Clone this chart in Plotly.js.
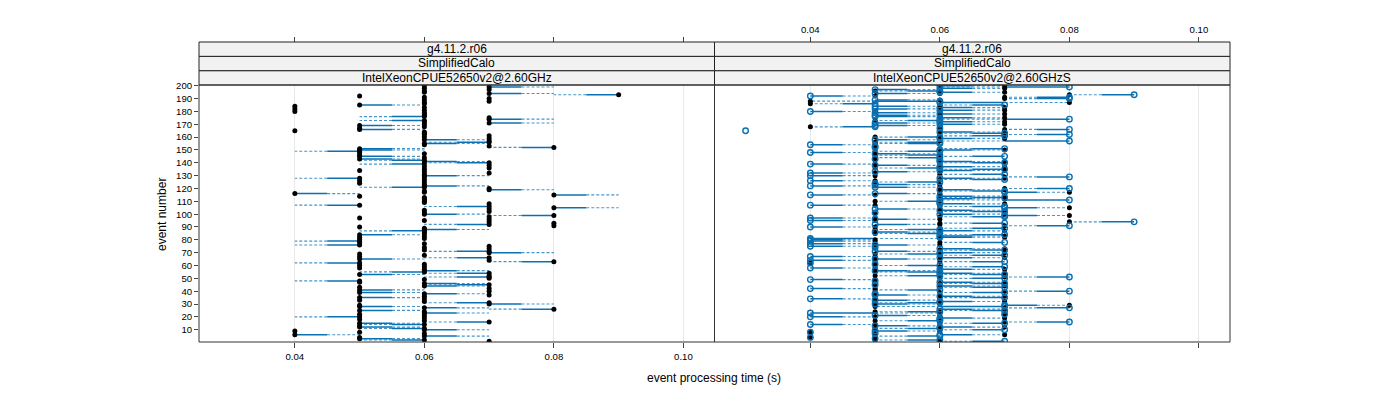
<!DOCTYPE html>
<html><head><meta charset="utf-8">
<script src="https://cdn.plot.ly/plotly-3.0.1.min.js"></script>
<style>html,body{margin:0;padding:0;background:#fff}#chart{width:1400px;height:400px}</style>
</head><body><div id="chart"></div>
<script>
// ---- data (event 1 .. 200) ----
const leftTime = [
0.07,0.06,0.05,0.05,0.06,0.04,0.06,0.05,0.04,0.06,
0.06,0.05,0.05,0.06,0.05,0.07,0.06,0.05,0.06,0.05,
0.06,0.05,0.06,0.06,0.05,0.08,0.06,0.05,0.05,0.07,
0.07,0.06,0.05,0.06,0.05,0.06,0.07,0.06,0.05,0.07,
0.05,0.07,0.05,0.06,0.07,0.06,0.05,0.05,0.06,0.07,
0.07,0.07,0.05,0.07,0.06,0.06,0.06,0.05,0.06,0.05,
0.06,0.05,0.08,0.07,0.05,0.07,0.05,0.06,0.05,0.07,
0.07,0.06,0.07,0.06,0.07,0.05,0.06,0.05,0.05,0.05,
0.06,0.05,0.06,0.05,0.06,0.06,0.06,0.06,0.06,0.05,
0.08,0.07,0.08,0.07,0.06,0.07,0.05,0.07,0.08,0.06,
0.06,0.07,0.06,0.07,0.08,0.07,0.05,0.07,0.06,0.06,
0.06,0.06,0.06,0.05,0.08,0.04,0.06,0.06,0.07,0.07,
0.06,0.06,0.06,0.05,0.06,0.05,0.06,0.05,0.06,0.06,
0.06,0.07,0.06,0.05,0.06,0.07,0.06,0.07,0.06,0.07,
0.06,0.06,0.05,0.06,0.05,0.05,0.06,0.05,0.05,0.05,
0.05,0.08,0.07,0.06,0.06,0.07,0.07,0.06,0.07,0.06,
0.07,0.06,0.06,0.06,0.04,0.05,0.05,0.06,0.05,0.06,
0.07,0.06,0.06,0.07,0.07,0.06,0.06,0.06,0.06,0.04,
0.06,0.04,0.06,0.04,0.05,0.06,0.06,0.07,0.06,0.07,
0.06,0.05,0.09,0.07,0.06,0.06,0.07,0.06,0.07,0.06];
const leftReference = [
0.07,0.05,0.06,0.05,0.07,0.05,0.06,0.05,0.04,0.07,
0.05,0.06,0.05,0.05,0.06,0.06,0.06,0.05,0.06,0.04,
0.06,0.05,0.07,0.06,0.06,0.07,0.07,0.06,0.05,0.08,
0.06,0.06,0.05,0.06,0.06,0.06,0.07,0.07,0.06,0.07,
0.06,0.07,0.05,0.07,0.06,0.07,0.05,0.04,0.06,0.07,
0.06,0.07,0.06,0.06,0.05,0.07,0.06,0.05,0.06,0.05,
0.06,0.04,0.07,0.07,0.06,0.06,0.05,0.06,0.05,0.08,
0.06,0.06,0.07,0.06,0.07,0.04,0.06,0.05,0.04,0.05,
0.06,0.05,0.06,0.06,0.06,0.06,0.05,0.07,0.06,0.05,
0.08,0.06,0.08,0.07,0.06,0.07,0.05,0.07,0.07,0.07,
0.06,0.07,0.06,0.07,0.09,0.06,0.04,0.07,0.06,0.06,
0.06,0.06,0.06,0.05,0.09,0.05,0.06,0.06,0.08,0.07,
0.05,0.07,0.06,0.05,0.06,0.05,0.06,0.04,0.06,0.07,
0.06,0.07,0.06,0.05,0.06,0.07,0.06,0.07,0.05,0.06,
0.07,0.05,0.06,0.06,0.06,0.05,0.06,0.05,0.04,0.06,
0.06,0.07,0.07,0.06,0.07,0.06,0.07,0.07,0.07,0.06,
0.07,0.06,0.06,0.06,0.04,0.06,0.05,0.06,0.06,0.06,
0.08,0.06,0.05,0.08,0.07,0.05,0.06,0.06,0.06,0.04,
0.06,0.04,0.06,0.04,0.06,0.06,0.06,0.07,0.06,0.07,
0.06,0.05,0.08,0.08,0.06,0.06,0.07,0.06,0.08,0.06];
const rightBlack = [
0.06,0.05,0.05,0.04,0.05,0.07,0.05,0.04,0.06,0.06,
0.05,0.07,0.06,0.05,0.06,0.07,0.05,0.06,0.07,0.05,
0.06,0.07,0.06,0.05,0.06,0.07,0.07,0.05,0.08,0.06,
0.05,0.07,0.06,0.05,0.06,0.07,0.06,0.05,0.06,0.07,
0.05,0.05,0.06,0.07,0.05,0.06,0.07,0.05,0.05,0.06,
0.07,0.05,0.06,0.07,0.05,0.06,0.07,0.05,0.06,0.05,
0.05,0.04,0.06,0.05,0.06,0.07,0.05,0.06,0.05,0.07,
0.06,0.06,0.07,0.05,0.05,0.06,0.05,0.06,0.05,0.05,
0.06,0.07,0.07,0.06,0.05,0.06,0.07,0.05,0.06,0.05,
0.07,0.06,0.06,0.08,0.05,0.06,0.05,0.06,0.08,0.07,
0.05,0.06,0.07,0.06,0.08,0.06,0.05,0.07,0.06,0.05,
0.06,0.07,0.06,0.07,0.05,0.06,0.08,0.06,0.07,0.07,
0.06,0.05,0.06,0.05,0.05,0.05,0.06,0.07,0.07,0.05,
0.06,0.05,0.06,0.07,0.06,0.05,0.07,0.06,0.05,0.06,
0.07,0.06,0.05,0.05,0.06,0.05,0.06,0.05,0.05,0.07,
0.06,0.05,0.05,0.05,0.05,0.05,0.06,0.06,0.07,0.05,
0.06,0.07,0.06,0.07,null,0.07,0.06,0.04,0.06,0.07,
0.06,0.07,0.05,0.06,0.07,0.06,0.06,0.07,0.06,0.05,
0.07,0.06,0.07,0.06,0.06,0.04,0.08,0.04,0.06,0.07,
0.07,0.05,0.08,0.06,0.07,0.05,0.06,0.07,0.06,0.07];
const rightBlue = [
0.07,0.06,0.05,0.04,0.06,0.06,0.05,0.04,0.05,0.07,
0.06,0.06,0.05,0.04,0.07,0.08,0.06,0.06,0.06,0.04,
0.05,0.07,0.04,0.06,0.07,0.06,0.08,0.07,0.07,0.05,
0.06,0.06,0.05,0.04,0.07,0.06,0.05,0.05,0.07,0.08,
0.06,0.04,0.07,0.06,0.05,0.07,0.06,0.05,0.04,0.07,
0.08,0.06,0.07,0.06,0.06,0.05,0.06,0.04,0.07,0.06,
0.05,0.04,0.07,0.04,0.05,0.06,0.04,0.07,0.06,0.06,
0.05,0.07,0.06,0.05,0.04,0.05,0.04,0.07,0.04,0.04,
0.04,0.06,0.06,0.07,0.06,0.05,0.06,0.06,0.07,0.04,
0.08,0.05,0.07,0.09,0.04,0.05,0.04,0.07,0.07,0.06,
0.05,0.07,0.06,0.05,0.07,0.07,0.04,0.06,0.06,0.06,
0.08,0.06,0.07,0.06,0.04,0.05,0.07,0.07,0.06,0.08,
0.05,0.04,0.05,0.05,0.06,0.04,0.07,0.06,0.08,0.04,
0.07,0.04,0.05,0.06,0.07,0.06,0.06,0.05,0.04,0.07,
0.06,0.06,0.05,0.06,0.07,0.06,0.05,0.04,0.06,0.06,
0.07,0.05,0.05,0.04,0.06,0.06,0.08,0.05,0.06,0.06,
0.07,0.08,0.07,0.06,0.03,0.08,0.06,0.05,0.05,0.06,
0.05,0.06,0.06,0.08,0.06,0.05,0.05,0.06,0.05,0.04,
0.06,0.05,0.06,0.05,0.07,0.05,0.06,0.06,0.05,0.08,
0.08,0.04,0.09,0.05,0.06,0.06,0.05,0.06,0.08,0.06];
const xTickVals = [0.04, 0.06, 0.08, 0.10];
const xTickText = ['0.04', '0.06', '0.08', '0.10'];
const yTickVals = [10,20,30,40,50,60,70,80,90,100,110,120,130,140,150,160,170,180,190,200];
const stripVersion = 'g4.11.2.r06';
const stripTest = 'SimplifiedCalo';
const panelMachines = ['IntelXeonCPUE52650v2@2.60GHz', 'IntelXeonCPUE52650v2@2.60GHzS'];
const xLabel = 'event processing time (s)';
const yLabel = 'event number';

// ---- build ----
const events = leftTime.map((_, i) => i + 1);
const SOLID = '#0a70b2', DASH = '#4596cc', FONT = 'Liberation Sans, Arial, sans-serif';

function segmentTraces(from, to, xa) {
  const sx = [], sy = [], dx = [], dy = [];
  for (let i = 0; i < events.length; i++) {
    const a = from[i], b = to[i];
    if (a == null || b == null || Math.abs(a - b) < 1e-9) continue;
    const m = (a + b) / 2, e = events[i];
    sx.push(a, m, null); sy.push(e, e, null);
    dx.push(m, b, null); dy.push(e, e, null);
  }
  return [
    {type: 'scatter', mode: 'lines', x: dx, y: dy, xaxis: xa, yaxis: 'y',
     line: {color: DASH, width: 1.1, dash: '3px,2px'}, hoverinfo: 'skip', showlegend: false},
    {type: 'scatter', mode: 'lines', x: sx, y: sy, xaxis: xa, yaxis: 'y',
     line: {color: SOLID, width: 1.5}, hoverinfo: 'skip', showlegend: false}
  ];
}

const traces = [];
traces.push(...segmentTraces(leftTime, leftReference, 'x'));
traces.push(...segmentTraces(rightBlue, rightBlack, 'x2'));
traces.push({type: 'scatter', mode: 'markers', x: leftTime, y: events, xaxis: 'x', yaxis: 'y',
  marker: {color: '#000', size: 5}, hoverinfo: 'x+y', showlegend: false});
traces.push({type: 'scatter', mode: 'markers', x: rightBlack, y: events, xaxis: 'x2', yaxis: 'y',
  marker: {color: '#000', size: 5}, hoverinfo: 'x+y', showlegend: false});
traces.push({type: 'scatter', mode: 'markers', x: rightBlue, y: events, xaxis: 'x2', yaxis: 'y',
  marker: {symbol: 'circle-open', color: '#0a70b2', size: 5.5, line: {width: 1.4, color: '#0a70b2'}},
  hoverinfo: 'x+y', showlegend: false});
// carriers for the top tick axes
traces.push({type: 'scatter', mode: 'markers', x: [], y: [], xaxis: 'x3', yaxis: 'y', showlegend: false});
traces.push({type: 'scatter', mode: 'markers', x: [], y: [], xaxis: 'x4', yaxis: 'y', showlegend: false});

const W = 1400, H = 400, mL = 199, mR = 170, mT = 42, mB = 58;
const plotH = H - mT - mB, plotW = W - mL - mR;
const panelTop = 257 / plotH;
const stripH = (1 - panelTop) / 3;
const xRange = [0.0252, 0.1048];
const tickFont = {family: FONT, size: 9.6, color: '#000'};

const baseX = {range: xRange, tickvals: xTickVals, ticktext: xTickText, ticks: 'outside', ticklen: 5,
  tickcolor: '#444', tickwidth: 1, showline: false, zeroline: false, tickfont: tickFont, fixedrange: true};

const layout = {
  width: W, height: H, margin: {l: mL, r: mR, t: mT, b: mB, pad: 0},
  paper_bgcolor: '#fff', plot_bgcolor: 'rgba(0,0,0,0)', showlegend: false,
  font: {family: FONT, color: '#000'},
  xaxis: Object.assign({}, baseX, {domain: [0, 0.5], anchor: 'y', side: 'bottom', showgrid: true,
    gridcolor: '#e9e9e9', gridwidth: 1}),
  xaxis2: Object.assign({}, baseX, {domain: [0.5, 1], anchor: 'y', side: 'bottom', showgrid: true,
    gridcolor: '#e9e9e9', gridwidth: 1, showticklabels: false}),
  xaxis3: Object.assign({}, baseX, {overlaying: 'x', anchor: 'free', position: 1, side: 'top',
    showgrid: false, showticklabels: false}),
  xaxis4: Object.assign({}, baseX, {overlaying: 'x2', anchor: 'free', position: 1, side: 'top',
    showgrid: false, showticklabels: true}),
  yaxis: {domain: [0, panelTop], range: [0.4, 200.6], tickvals: yTickVals, ticks: 'outside', ticklen: 4,
    tickcolor: '#444', showgrid: false, zeroline: false, showline: false, tickfont: tickFont, fixedrange: true},
  shapes: [],
  annotations: []
};

const stripRows = [[panelMachines[0], panelMachines[1]], [stripTest, stripTest], [stripVersion, stripVersion]];
const panelX = [[0, 0.5], [0.5, 1]];
stripRows.forEach((row, k) => {
  const y0 = panelTop + k * stripH, y1 = y0 + stripH;
  row.forEach((txt, p) => {
    layout.shapes.push({type: 'rect', xref: 'paper', yref: 'paper', x0: panelX[p][0], x1: panelX[p][1],
      y0: y0, y1: y1, fillcolor: '#f2f2f2', line: {color: '#222', width: 1}, layer: 'above'});
    layout.annotations.push({xref: 'paper', yref: 'paper', x: (panelX[p][0] + panelX[p][1]) / 2,
      y: (y0 + y1) / 2, text: txt, showarrow: false, xanchor: 'center', yanchor: 'middle',
      font: {family: FONT, size: 12, color: '#000'}});
  });
});
panelX.forEach(px => {
  layout.shapes.push({type: 'rect', xref: 'paper', yref: 'paper', x0: px[0], x1: px[1], y0: 0, y1: panelTop,
    line: {color: '#333', width: 1}, layer: 'above'});
});
layout.annotations.push({xref: 'paper', yref: 'paper', x: (162 - mL) / plotW, y: 1 - (215 - mT) / plotH,
  text: yLabel, textangle: -90, showarrow: false, xanchor: 'center', yanchor: 'middle',
  font: {family: FONT, size: 12, color: '#000'}});
layout.annotations.push({xref: 'paper', yref: 'paper', x: (714 - mL) / plotW, y: 1 - (378 - mT) / plotH,
  text: xLabel, showarrow: false, xanchor: 'center', yanchor: 'middle',
  font: {family: FONT, size: 12, color: '#000'}});

Plotly.newPlot('chart', traces, layout, {displayModeBar: false, staticPlot: true});
</script>
</body></html>
